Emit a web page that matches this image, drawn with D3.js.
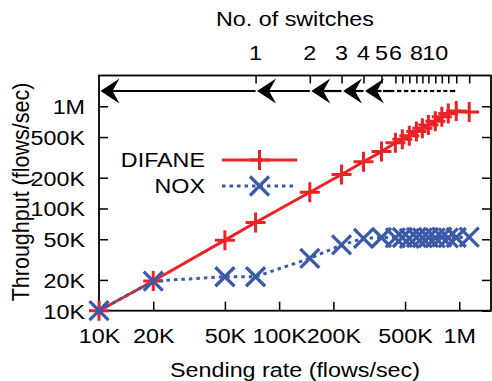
<!DOCTYPE html>
<html>
<head>
<meta charset="utf-8">
<script src="https://cdn.jsdelivr.net/npm/d3@7"></script>
<style>
  body { margin: 0; background: #fff; }
  svg { display: block; }
  text { font-family: "Liberation Sans", Arial, Helvetica, sans-serif; font-size: 21px; fill: #000; }
</style>
</head>
<body>
<div class="chart-container"></div>
<script>
// sending rate (flows/sec), one entry per measured point
const rates  = [10000, 20000, 50000, 74000, 148000, 222000, 294000, 370000, 442000, 483000,
                528000, 578000, 624000, 674000, 736000, 800000, 869000, 962000, 1135000];
const difane = [10000, 19500, 49000, 73000, 144000, 215000, 287000, 360000, 440000, 475000,
                515000, 565000, 610000, 655000, 715000, 790000, 850000, 900000, 880000];
const nox    = [10000, 19500, 21500, 21500, 32500, 44000, 51000, 52000, 51500, 52000,
                51000, 52000, 51500, 52000, 51500, 52500, 51500, 52000, 52500];

const xTickValues = [1e4, 2e4, 5e4, 1e5, 2e5, 5e5, 1e6];
const xTickLabels = ['10K', '20K', '50K', '100K', '200K', '500K', '1M'];
const yTickValues = [1e4, 2e4, 5e4, 1e5, 2e5, 5e5, 1e6];
const yTickLabels = ['10K', '20K', '50K', '100K', '200K', '500K', '1M'];

// top axis: switch count ticks sit on the measured rates
const switchTicks = rates.slice(3);
const switchLabels = ['1', '2', '3', '4', '5', '6', '8', '10'];
const switchLabelRates = [74000, 148000, 222000, 294000, 370000, 442000, 578000, 736000];

const width = 492, height = 381;
const pLeft = 99, pRight = 491, pTop = 75.5, pBottom = 310.7;
const red = '#ec2227', blue = '#3b5ba9';
const sx = 1.11; // horizontal text stretch

const svg = d3.select('.chart-container').append('svg')
    .attr('width', width).attr('height', height);

const x = d3.scaleLog().domain([1e4, 1.5e6]).range([pLeft, pRight]);
const y = d3.scaleLog().domain([1e4, 2e6]).range([pBottom, pTop]);

function label(str, px, py, anchor) {
  return svg.append('text')
    .attr('transform', `translate(${px},${py}) scale(${sx},1)`)
    .attr('text-anchor', anchor)
    .text(str);
}

// axes
const xAxis = svg.append('g').attr('transform', `translate(0,${pBottom})`)
    .call(d3.axisBottom(x).tickValues(xTickValues).tickFormat((d, i) => xTickLabels[i])
      .tickSize(-9).tickSizeOuter(0));
xAxis.selectAll('text').attr('y', 0).attr('dy', 0)
    .attr('transform', `translate(0,32) scale(${sx},1)`);

const yAxis = svg.append('g').attr('transform', `translate(${pLeft},0)`)
    .call(d3.axisLeft(y).tickValues(yTickValues).tickFormat((d, i) => yTickLabels[i])
      .tickSize(-9).tickSizeOuter(0));
yAxis.selectAll('text').attr('x', 0).attr('dy', 0)
    .attr('transform', `translate(-14,7.5) scale(${sx},1)`);

svg.append('g').attr('transform', `translate(${pRight},0)`)
    .call(d3.axisRight(y).tickValues(yTickValues).tickFormat('').tickSize(-9).tickSizeOuter(0));

svg.append('g').attr('transform', `translate(0,${pTop})`)
    .call(d3.axisTop(x).tickValues(switchTicks).tickFormat('').tickSize(-8).tickSizeOuter(0));

svg.selectAll('.domain').remove();
svg.selectAll('.tick line').attr('stroke', '#000').attr('stroke-width', 1.5);
svg.selectAll('.tick text').style('font-size', '21px')
    .style('font-family', '"Liberation Sans", Arial, Helvetica, sans-serif');

svg.append('rect')
    .attr('x', pLeft).attr('y', pTop)
    .attr('width', pRight - pLeft).attr('height', pBottom - pTop)
    .attr('fill', 'none').attr('stroke', '#000').attr('stroke-width', 1.8);

// switch arrows along the top
const arrowY = 91;
const arrows = svg.append('g');
switchTicks.slice(0, -1).forEach((r, i) => {
  const x1 = x(r);
  const x2 = i === 0 ? x.range()[0] : x(switchTicks[i - 1]);
  if (x1 - x2 >= 16) {
    const tip = x2 + 1.5;
    arrows.append('line').attr('x1', x1).attr('x2', tip + 10)
      .attr('y1', arrowY).attr('y2', arrowY)
      .attr('stroke', '#000').attr('stroke-width', 2.2);
    arrows.append('path')
      .attr('d', `M${tip},${arrowY}L${tip + 19},${arrowY - 12.5}L${tip + 12},${arrowY}L${tip + 19},${arrowY + 12.5}Z`)
      .attr('fill', '#000');
  } else {
    arrows.append('line').attr('x1', x1 - 1).attr('x2', x2 + 1.5)
      .attr('y1', arrowY).attr('y2', arrowY)
      .attr('stroke', '#000').attr('stroke-width', 2.2);
  }
});

// lines + markers
const line = d3.line().x(d => x(d[0])).y(d => y(d[1]));
const plus = 'M-10,0H10M0,-10V10';
const cross = 'M-9.5,-9.5L9.5,9.5M-9.5,9.5L9.5,-9.5';

svg.append('path').datum(rates.map((r, i) => [r, difane[i]]))
    .attr('d', line).attr('fill', 'none').attr('stroke', red).attr('stroke-width', 3);
svg.append('g').selectAll('path').data(rates).enter().append('path')
    .attr('transform', (d, i) => `translate(${x(d)},${y(difane[i])})`)
    .attr('d', plus).attr('stroke', red).attr('stroke-width', 3).attr('fill', 'none');

svg.append('path').datum(rates.map((r, i) => [r, nox[i]]))
    .attr('d', line).attr('fill', 'none').attr('stroke', blue).attr('stroke-width', 3)
    .attr('stroke-dasharray', '3.5,4');
svg.append('g').selectAll('path').data(rates).enter().append('path')
    .attr('transform', (d, i) => `translate(${x(d)},${y(nox[i])})`)
    .attr('d', cross).attr('stroke', blue).attr('stroke-width', 3.3).attr('fill', 'none');

// legend
const legend = svg.append('g');
legend.append('line').attr('x1', 222).attr('x2', 297).attr('y1', 160).attr('y2', 160)
    .attr('stroke', red).attr('stroke-width', 3);
legend.append('path').attr('transform', 'translate(259.5,160)').attr('d', plus)
    .attr('stroke', red).attr('stroke-width', 3);
legend.append('line').attr('x1', 222).attr('x2', 297).attr('y1', 186).attr('y2', 186)
    .attr('stroke', blue).attr('stroke-width', 3).attr('stroke-dasharray', '3.5,4');
legend.append('path').attr('transform', 'translate(259.5,186)').attr('d', cross)
    .attr('stroke', blue).attr('stroke-width', 3.3);
label('DIFANE', 205, 167, 'end');
label('NOX', 205, 193, 'end');

// titles
label('No. of switches', 295, 26, 'middle');
switchLabels.forEach((s, i) => label(s, x(switchLabelRates[i]), 60, 'middle'));
label('Sending rate (flows/sec)', 295, 377, 'middle');
svg.append('text')
    .attr('transform', `translate(29,192) scale(${sx},1) rotate(-90)`)
    .attr('text-anchor', 'middle')
    .style('font-size', '21.5px')
    .text('Throughput (flows/sec)');
</script>
</body>
</html>
